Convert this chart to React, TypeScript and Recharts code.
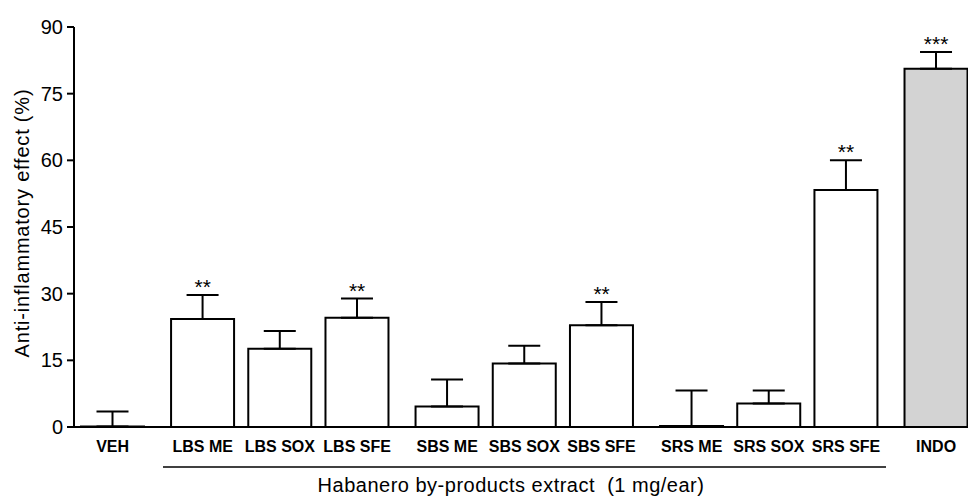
import React from 'react';
import {
  BarChart, Bar, XAxis, YAxis, ErrorBar, Cell, ReferenceDot
} from 'recharts';

const categories = ['VEH', 'LBS ME', 'LBS SOX', 'LBS SFE', 'SBS ME', 'SBS SOX', 'SBS SFE', 'SRS ME', 'SRS SOX', 'SRS SFE', 'INDO'];
// which block each bar belongs to (vehicle, LBS, SBS, SRS, indomethacin)
const groups = [0, 1, 1, 1, 2, 2, 2, 3, 3, 3, 4];
const means = [0.1, 24.3, 17.6, 24.6, 4.6, 14.3, 22.9, 0.2, 5.3, 53.3, 80.6];
const sem = [3.4, 5.4, 4.0, 4.3, 6.1, 4.0, 5.2, 8.0, 2.9, 6.7, 3.8];
const significance = ['', '**', '', '**', '', '', '**', '', '', '**', '***'];
const yTicks = [0, 15, 30, 45, 60, 75, 90];

const FONT = '"Liberation Sans", Arial, Helvetica, sans-serif';

// slot of 6 units per bar, one extra unit between blocks
const data = categories.map((name, i) => ({
  name,
  pos: i * 6 + groups[i],
  mean: means[i],
  err: [0, sem[i]],
  sig: significance[i],
}));

export default function App() {
  const labelByPos = new Map(data.map((d) => [d.pos, d.name]));

  return (
    <div style={{ position: 'absolute', left: 0, top: 0, width: 968, height: 497, background: '#fff' }}>
      <BarChart
        width={968}
        height={497}
        data={data}
        margin={{ top: 27, right: 1, bottom: 0, left: 0 }}
        barSize={63}
      >
        <XAxis
          dataKey="pos"
          type="number"
          domain={[-3, 66.4]}
          ticks={data.map((d) => d.pos)}
          tickFormatter={(v) => labelByPos.get(v) ?? ''}
          interval={0}
          height={70}
          tickLine={false}
          tickMargin={8}
          axisLine={{ stroke: '#000', strokeWidth: 2 }}
          tick={{ fill: '#000', fontSize: 16, fontWeight: 700, fontFamily: FONT }}
        />
        <YAxis
          domain={[0, 90]}
          ticks={yTicks}
          width={74}
          tickSize={7}
          tickMargin={4}
          axisLine={{ stroke: '#000', strokeWidth: 2 }}
          tickLine={{ stroke: '#000', strokeWidth: 2 }}
          tick={{ fill: '#000', fontSize: 20, fontFamily: FONT }}
        />
        <Bar dataKey="mean" stroke="#000" strokeWidth={2} isAnimationActive={false}>
          {data.map((d, i) => (
            <Cell key={`c-${i}`} fill={d.name === 'INDO' ? '#d3d3d3' : '#fff'} />
          ))}
          <ErrorBar dataKey="err" direction="y" width={16} stroke="#000" strokeWidth={2} isAnimationActive={false} />
        </Bar>
        {/* significance marks sit just above each error cap */}
        {data.filter((d) => d.sig).map((d) => (
          <ReferenceDot
            key={`sig-${d.name}`}
            x={d.pos}
            y={d.mean + d.err[1]}
            r={0}
            fill="none"
            stroke="none"
            label={{ value: d.sig, position: 'top', offset: 1, fontSize: 21, fontFamily: FONT, fill: '#000' }}
          />
        ))}
      </BarChart>
      <svg
        width={968}
        height={497}
        style={{ position: 'absolute', left: 0, top: 0, pointerEvents: 'none' }}
      >
        <text
          transform="translate(29,223) rotate(-90)"
          textAnchor="middle"
          fontSize={20}
          letterSpacing={0.8}
          fontFamily={FONT}
          fill="#000"
        >
          Anti-inflammatory effect (%)
        </text>
        <line x1={163} y1={467} x2={886} y2={467} stroke="#000" strokeWidth={1.5} />
        <text x={511} y={492} textAnchor="middle" fontSize={20} letterSpacing={0.5} fontFamily={FONT} fill="#000" style={{ whiteSpace: 'pre' }}>
          {'Habanero by-products extract  (1 mg/ear)'}
        </text>
      </svg>
    </div>
  );
}
